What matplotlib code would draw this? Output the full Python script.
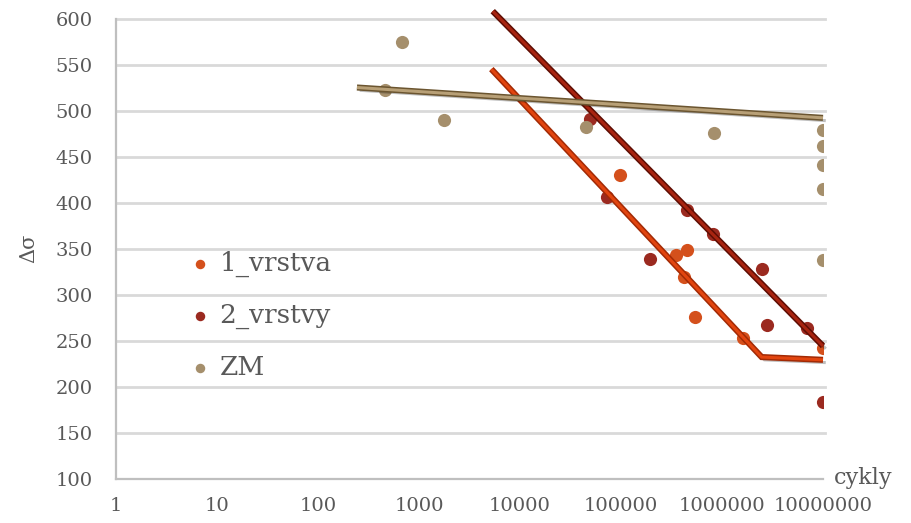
import numpy as np
import matplotlib
matplotlib.use("Agg")
import matplotlib.pyplot as plt
import matplotlib.patheffects as pe

plt.rcParams['font.family'] = ['DejaVu Serif']

# data
x_1v = [98000, 351000, 450000, 420000, 540000, 1600000, 10000000]
y_1v = [430, 343, 348, 319, 276, 253, 242]

x_2v = [49300, 72100, 194000, 447000, 820000, 2470000, 2810000, 6900000, 10000000]
y_2v = [491, 406, 339, 392, 366, 328, 267, 264, 183]

x_zm = [460, 674, 1780, 44700, 828000, 10000000, 10000000, 10000000, 10000000, 10000000]
y_zm = [522, 575, 490, 482, 476, 479, 461, 441, 415, 337]

# trend lines (end points)
trend_1v_x = [5200, 2470000, 10000000]
trend_1v_y = [545, 232, 229]
trend_2v_x = [5370, 10000000]
trend_2v_y = [608, 244]
trend_zm_x = [243, 10000000]
trend_zm_y = [525, 492]

x_ticks = [1, 10, 100, 1000, 10000, 100000, 1000000, 10000000]
y_ticks = [100, 150, 200, 250, 300, 350, 400, 450, 500, 550, 600]

c_1v = '#D4501C'
c_2v = '#9B2A20'
c_zm = '#A58F6C'
txt = '#595959'

fig = plt.figure(figsize=(9.12, 5.23), dpi=100)
ax = fig.add_axes([116 / 912, 1 - 478.5 / 523, (823 - 116) / 912, 460 / 523])

ax.set_xscale('log')
ax.set_xlim(1, 1e7)
ax.set_ylim(100, 600)

# gridlines
for yv in y_ticks[1:]:
    ax.axhline(yv, color='#D9D9D9', lw=2, zorder=0, xmax=1.003, clip_on=False)

ax.scatter(x_1v, y_1v, s=90, color=c_1v, lw=0, zorder=3, label='1_vrstva')
ax.scatter(x_2v, y_2v, s=90, color=c_2v, lw=0, zorder=3, label='2_vrstvy')
ax.scatter(x_zm, y_zm, s=90, color=c_zm, lw=0, zorder=3, label='ZM')


def trend(xs, ys, inner, outer):
    ax.plot(xs, ys, color=inner, lw=2.2, zorder=4, clip_on=False,
            solid_joinstyle='miter', solid_capstyle='butt',
            path_effects=[pe.SimpleLineShadow(offset=(2, -2), shadow_color='k', alpha=0.25),
                          pe.Stroke(linewidth=4.4, foreground=outer),
                          pe.Normal()])


trend(trend_1v_x, trend_1v_y, '#E2450F', '#A22A05')
trend(trend_2v_x, trend_2v_y, '#A82410', '#5E0D03')
trend(trend_zm_x, trend_zm_y, '#B8A077', '#6B5530')

for s in ['top', 'right']:
    ax.spines[s].set_visible(False)
for s in ['left', 'bottom']:
    ax.spines[s].set_color('#BFBFBF')
    ax.spines[s].set_linewidth(1.6)
ax.spines['bottom'].set_bounds(1, 1e7)

ax.set_xticks(x_ticks)
ax.set_xticklabels([str(v) for v in x_ticks])
ax.xaxis.set_minor_locator(matplotlib.ticker.NullLocator())
ax.set_yticks(y_ticks)
ax.tick_params(length=0, labelsize=14, labelcolor=txt)
ax.tick_params(axis='y', pad=17)
ax.tick_params(axis='x', pad=13)

fig.text(29 / 912, 1 - 248 / 523, 'Δσ', rotation=90, ha='center', va='center',
         fontsize=15, color=txt)
fig.text(863 / 912, 1 - 478 / 523, 'cykly', ha='center', va='center',
         fontsize=16, color=txt)

leg = ax.legend(loc='upper left', bbox_to_anchor=(60 / 707, 1 - 222 / 460),
                frameon=False, fontsize=19, markerscale=0.72, handletextpad=0.25,
                labelspacing=0.97, handlelength=1.0, borderaxespad=0)
for t in leg.get_texts():
    t.set_color(txt)

fig.savefig('out.png', dpi=100)
